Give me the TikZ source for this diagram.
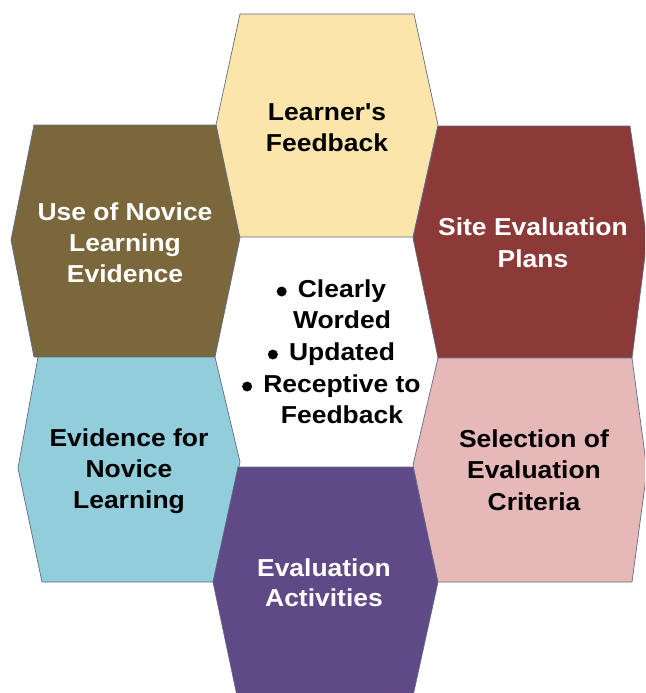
\documentclass[tikz,border=0pt]{standalone}
\usepackage{fontspec}
\setmainfont{Liberation Sans}[FakeStretch=1.08, Ligatures=TeXOff]
\definecolor{yellowhex}{RGB}{252,229,170}
\definecolor{olivehex}{RGB}{122,104,60}
\definecolor{redhex}{RGB}{139,58,56}
\definecolor{bluehex}{RGB}{146,205,220}
\definecolor{pinkhex}{RGB}{230,184,183}
\definecolor{purplehex}{RGB}{95,73,135}
\definecolor{edgecol}{RGB}{95,108,135}
\newcommand\lblfont{\fontsize{24.5}{31.5}\selectfont\bfseries}
\begin{document}
\begin{tikzpicture}[x=1pt,y=-1pt,
  hexcell/.style={draw=edgecol, line width=0.7pt, line join=miter},
  lbl/.style={anchor=base, inner sep=0pt, font=\lblfont},
  dark/.style={lbl, text=black},
  light/.style={lbl, text=white},
  dot/.style={circle, fill=black, inner sep=0pt, minimum size=10pt}]
\useasboundingbox (0,0) rectangle (645,693);
\begin{scope}
  \clip (0,0) rectangle (645,693);
  % six cells around the empty centre
  \filldraw[hexcell, fill=yellowhex] (240,14) -- (414,14) -- (438,125) -- (413,237) -- (238,237) -- (216,125) -- cycle;
  \filldraw[hexcell, fill=olivehex] (34,125) -- (216,125) -- (240,238) -- (215,357) -- (34,357) -- (11,240) -- cycle;
  \filldraw[hexcell, fill=redhex] (438,126) -- (630,126) -- (647,240) -- (632,358) -- (438,358) -- (413,238) -- cycle;
  \filldraw[hexcell, fill=bluehex] (38,357) -- (215,357) -- (240,462) -- (213,582) -- (42,582) -- (18,468) -- cycle;
  \filldraw[hexcell, fill=pinkhex] (438,358) -- (632,358) -- (647,470) -- (632,582) -- (437,582) -- (413,465) -- cycle;
  \filldraw[hexcell, fill=purplehex] (238,467) -- (413,467) -- (438,582) -- (413,696) -- (237,696) -- (213,582) -- cycle;
\end{scope}
% cell labels
\node[dark] (fb1) at (327,120) {Learner's};
\node[dark] (fb2) at (327,151) {Feedback};
\node[light] (use1) at (125,220) {Use of Novice};
\node[light] (use2) at (125,251) {Learning};
\node[light] (use3) at (125,282) {Evidence};
\node[light] (sep1) at (533,235) {Site Evaluation};
\node[light] (sep2) at (533,267) {Plans};
\node[dark] (evi1) at (129,446) {Evidence for};
\node[dark] (evi2) at (129,477) {Novice};
\node[dark] (evi3) at (129,508) {Learning};
\node[dark] (sel1) at (534,447) {Selection of};
\node[dark] (sel2) at (534,478) {Evaluation};
\node[dark] (sel3) at (534,510) {Criteria};
\node[light] (act1) at (324,576) {Evaluation};
\node[light] (act2) at (324,606) {Activities};
% centre list
\node[dark] (c1) at (342,297) {Clearly};
\node[dark] (c2) at (342,328) {Worded};
\node[dark] (c3) at (342,360) {Updated};
\node[dark] (c4) at (342,392) {Receptive to};
\node[dark] (c5) at (342,423) {Feedback};
\node[dot] (d1) at ([xshift=-16pt,yshift=5.5pt]c1.base west) {};
\node[dot] (d2) at ([xshift=-16pt,yshift=5.5pt]c3.base west) {};
\node[dot] (d3) at ([xshift=-16pt,yshift=5.5pt]c4.base west) {};
\end{tikzpicture}
\end{document}
